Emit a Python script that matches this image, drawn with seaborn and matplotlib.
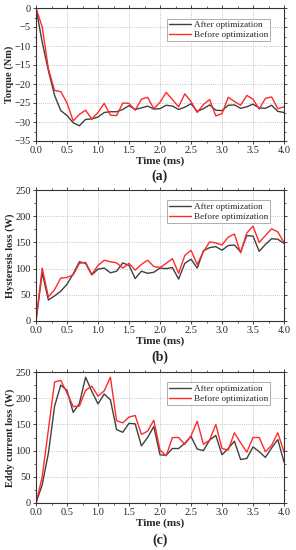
import numpy as np
import pandas as pd
import matplotlib
matplotlib.use("Agg")
import matplotlib.pyplot as plt
from matplotlib.ticker import MultipleLocator
import seaborn as sns

# Time axis (ms), 0.1 ms step
time_ms = [round(0.1 * i, 1) for i in range(41)]

# (a) Torque (Nm)
torque_after = [0, -9, -16.5, -23, -27, -28.3, -30.2, -31, -29.3, -29.2,
                -28.7, -27.5, -27.3, -27.3, -26.7, -25.7, -26.7, -26.3, -25.8, -26.6,
                -26.5, -25.6, -25.8, -26.7, -26.1, -25.2, -27.2, -26.5, -25.5, -26.9,
                -27.0, -25.6, -25.5, -26.4, -26.0, -25.3, -26.3, -26.4, -25.6, -27.2,
                -27.5]
torque_before = [0, -5, -16, -21.7, -22, -25, -29.7, -28, -26.9, -29.2,
                 -27.5, -25.1, -28.2, -28.3, -25, -25.1, -26.9, -24, -23.5, -26.5,
                 -24.8, -22.2, -24.1, -26, -22.6, -24.6, -27.5, -25.4, -24.1, -28.4,
                 -27.8, -23.5, -24.6, -25.6, -23, -24, -26.6, -23.8, -23.4, -26.5,
                 -26]

# (b) Hysteresis loss (W)
hyst_after = [0, 92, 40, 48, 57, 70, 90, 113, 110, 88,
              99, 101, 92, 95, 111, 106, 81, 95, 91, 93,
              101, 100, 102, 80, 110, 118, 101, 134, 140, 142,
              135, 144, 145, 132, 163, 162, 133, 146, 157, 156,
              148]
hyst_before = [0, 101, 46, 60, 82, 83, 88, 110, 112, 89,
               106, 116, 113, 111, 101, 110, 97, 108, 116, 104,
               102, 110, 119, 91, 125, 135, 108, 132, 151, 149,
               145, 160, 166, 130, 168, 181, 150, 163, 176, 170,
               150]

# (c) Eddy current loss (W)
eddy_after = [0, 35, 95, 185, 225, 215, 173, 190, 240, 213,
              189, 208, 197, 140, 135, 152, 151, 109, 125, 146,
              92, 91, 104, 104, 114, 127, 103, 100, 120, 129,
              92, 104, 118, 83, 85, 107, 98, 87, 105, 121,
              78]
eddy_before = [0, 50, 140, 231, 234, 210, 184, 185, 215, 223,
               204, 214, 240, 157, 153, 164, 167, 131, 137, 158,
               101, 90, 125, 125, 112, 128, 156, 112, 120, 150,
               104, 101, 134, 115, 97, 125, 125, 98, 110, 134,
               97]

series_names = ["After optimization", "Before optimization"]
palette = {"After optimization": "#404040", "Before optimization": "#ff2a2a"}

sns.set_style("ticks")
plt.rcParams["font.family"] = ["Liberation Serif", "DejaVu Serif"]

W, H = 296, 550
fig = plt.figure(figsize=(W / 100, H / 100), dpi=100)


def make_df(after, before):
    return pd.DataFrame({
        "time": time_ms * 2,
        "value": list(after) + list(before),
        "series": [series_names[0]] * len(after) + [series_names[1]] * len(before),
    })


def px_axes(left, top, right, bottom):
    return fig.add_axes([left / W, 1 - bottom / H, (right - left) / W, (bottom - top) / H])


panels = [
    (torque_after, torque_before, "Torque (Nm)", (-35, 0), 5, 2.5, "(a)", 8, 141, 176),
    (hyst_after, hyst_before, "Hysteresis loss (W)", (0, 250), 50, 25, "(b)", 190, 321, 357),
    (eddy_after, eddy_before, "Eddy current loss (W)", (0, 250), 50, 25, "(c)", 372, 503, 540),
]

for after, before, ylabel, ylim, ymaj, ymin, tag, top, bottom, tag_y in panels:
    ax = px_axes(36, top, 284, bottom)
    df = make_df(after, before)
    sns.lineplot(data=df, x="time", y="value", hue="series", palette=palette,
                 linewidth=1.0, ax=ax, legend=True)
    ax.set_xlim(0, 4.0)
    ax.set_ylim(*ylim)
    ax.xaxis.set_major_locator(MultipleLocator(0.5))
    ax.xaxis.set_minor_locator(MultipleLocator(0.25))
    ax.yaxis.set_major_locator(MultipleLocator(ymaj))
    ax.yaxis.set_minor_locator(MultipleLocator(ymin))
    ax.xaxis.set_major_formatter(plt.FuncFormatter(lambda v, p: f"{v:.1f}"))
    ax.grid(True, which="major", linestyle=":", color="#b0b0b0", linewidth=0.6)
    ax.tick_params(which="major", direction="out", length=2.5, width=0.6,
                   labelsize=7.5, pad=1.2, top=True, right=True)
    ax.tick_params(which="minor", direction="out", length=1.5, width=0.5,
                   top=True, right=True)
    for s in ax.spines.values():
        s.set_linewidth(0.8)
        s.set_color("#333333")
    ax.set_xlabel("Time (ms)", fontsize=8, fontweight="bold", labelpad=1)
    ax.set_ylabel(ylabel, fontsize=7.5, fontweight="bold", labelpad=0.5)
    leg = ax.legend(loc="upper right", bbox_to_anchor=(0.945, 0.92), fontsize=6.6,
                    frameon=True, fancybox=False, edgecolor="#888888",
                    handlelength=2.4, handletextpad=0.3, borderpad=0.25,
                    labelspacing=0.15, borderaxespad=0)
    leg.get_frame().set_linewidth(0.6)
    fig.text(160 / W, 1 - tag_y / H, tag, ha="center", va="center",
             fontsize=10, fontweight="bold")

fig.savefig("out.png", dpi=100)
